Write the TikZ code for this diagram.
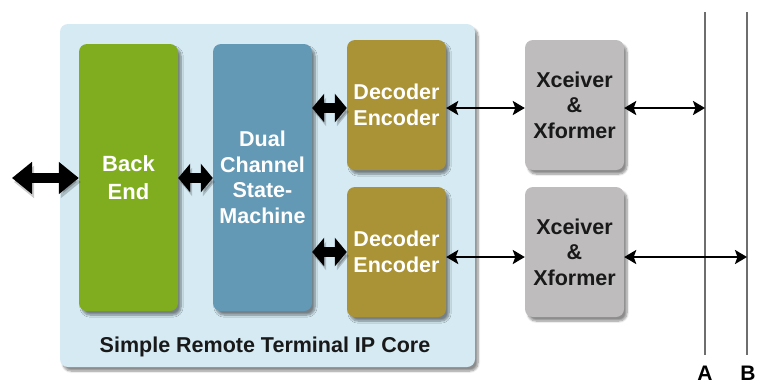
\documentclass[tikz,border=0pt]{standalone}
\usepackage{fontspec}
\setmainfont{Liberation Sans}
\usetikzlibrary{arrows.meta,shadows.blur}
\definecolor{corebg}{HTML}{D5EAF3}
\definecolor{beGreen}{HTML}{80AC1F}
\definecolor{smBlue}{HTML}{6499B5}
\definecolor{deOlive}{HTML}{AA9236}
\definecolor{xcGrey}{HTML}{BEBCBD}
\definecolor{busGrey}{HTML}{6E6E6E}
\tikzset{
  box/.style={rounded corners=8pt, inner sep=0pt, minimum width=99pt, align=center,
    text=white, font=\bfseries\fontsize{21.5}{25.5}\selectfont,
    blur shadow={shadow xshift=3pt, shadow yshift=-4pt, shadow opacity=45, shadow blur steps=8}},
  fat/.style={line width=10pt, {Triangle[length=12pt,width=28pt]}-{Triangle[length=12pt,width=28pt]},
    preaction={draw=black, opacity=.2, transform canvas={shift={(2pt,-4pt)}}}},
  link/.style={line width=2.6pt, {Stealth[length=12pt,width=14pt,inset=2.5pt]}-{Stealth[length=12pt,width=14pt,inset=2.5pt]}},
}
\begin{document}
\begin{tikzpicture}[x=1pt,y=-1pt]
  \useasboundingbox (0,0) rectangle (758,384);

  % core frame
  \node[box, fill=corebg, minimum width=415pt, minimum height=343pt] (core) at (267.5,195.5) {};
  \node[font=\bfseries\fontsize{21.5}{25}\selectfont, text=black!90, anchor=base] (corelbl) at (265,352) {Simple Remote Terminal IP Core};

  % blocks
  \node[box, fill=beGreen, minimum height=267pt, font=\bfseries\fontsize{22}{28}\selectfont] (back) at (128.5,177.5) {Back\\End};
  \node[box, fill=smBlue, minimum height=267pt] (dual) at (262.5,177.5) {Dual\\Channel\\State-\\Machine};
  \node[box, fill=deOlive, minimum height=130pt] (dec1) at (396.5,105) {Decoder\\Encoder};
  \node[box, fill=deOlive, minimum height=130pt] (dec2) at (396.5,252) {Decoder\\Encoder};
  \node[box, fill=xcGrey, text=black!90, minimum height=130pt] (xc1) at (574.5,105) {Xceiver\\\&\\Xformer};
  \node[box, fill=xcGrey, text=black!90, minimum height=130pt] (xc2) at (574.5,252) {Xceiver\\\&\\Xformer};

  % bus lines A, B
  \coordinate (atop) at (705,12); %A
  \coordinate (abot) at (705,355);
  \coordinate (btop) at (747,12); %B
  \coordinate (bbot) at (747,355);
  \draw[busGrey, line width=1.5pt] (atop) -- (abot);
  \draw[busGrey, line width=1.5pt] (btop) -- (bbot);
  \node[font=\bfseries\fontsize{21}{25}\selectfont, anchor=base] (alb) at (705,380) {A};
  \node[font=\bfseries\fontsize{21}{25}\selectfont, anchor=base] (blb) at (748,380) {B};

  % channel heights
  \coordinate (io) at (12,178);
  \coordinate (ch1) at (0,108);
  \coordinate (ch2) at (0,257);

  % fat arrows
  \draw[fat, {Triangle[length=20pt,width=31pt]}-{Triangle[length=20pt,width=31pt]}] (io) -- (back.west |- io);
  \draw[fat] (back.east |- io) -- (dual.west |- io);
  \draw[fat] (dual.east |- ch1) -- (dec1.west |- ch1);
  \draw[fat] (dual.east |- dec2.west) -- (dec2.west);

  % thin arrows
  \draw[link] (dec1.east |- ch1) -- (xc1.west |- ch1);
  \draw[link] (dec2.east |- ch2) -- (xc2.west |- ch2);
  \draw[link] (xc1.east |- ch1) -- (atop |- ch1);
  \draw[link] (xc2.east |- ch2) -- (btop |- ch2);
\end{tikzpicture}
\end{document}
